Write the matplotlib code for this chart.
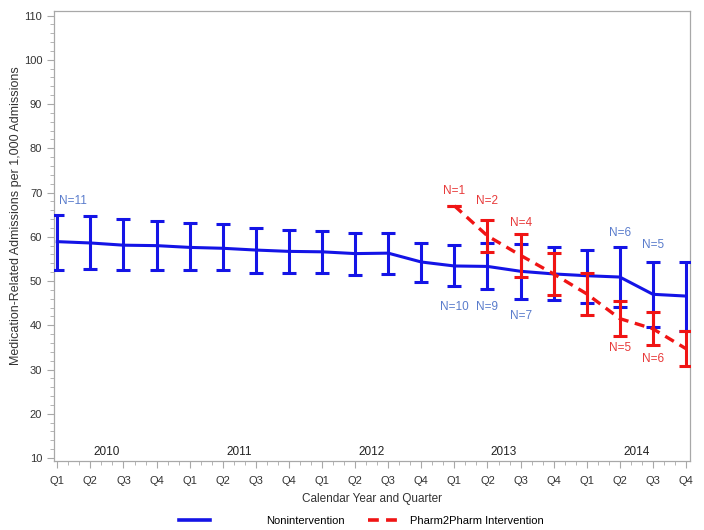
import numpy as np
import matplotlib
matplotlib.use("Agg")
import matplotlib.pyplot as plt
from matplotlib.lines import Line2D

plt.rcParams['font.family'] = ['Liberation Sans', 'DejaVu Sans']

# Datos
quarters = ['Q1', 'Q2', 'Q3', 'Q4'] * 5
years = ['2010', '2011', '2012', '2013', '2014']

non_mean = [58.9, 58.6, 58.1, 58.0, 57.6, 57.4, 57.0, 56.7, 56.6, 56.2,
            56.3, 54.3, 53.4, 53.3, 52.2, 51.6, 51.2, 50.9, 47.0, 46.6]
non_low = [52.5, 52.7, 52.4, 52.5, 52.4, 52.4, 51.8, 51.8, 51.8, 51.3,
           51.7, 49.8, 48.8, 48.2, 46.0, 45.6, 45.1, 44.1, 39.6, 38.8]
non_high = [65.0, 64.6, 64.0, 63.5, 63.1, 62.9, 62.0, 61.6, 61.2, 60.8,
            60.8, 58.7, 58.1, 58.7, 58.3, 57.7, 57.1, 57.8, 54.3, 54.2]

p2p_start = 12
p2p_mean = [67.0, 60.2, 55.8, 51.6, 47.1, 41.5, 39.2, 34.7]
p2p_low = [67.0, 56.6, 50.9, 46.8, 42.4, 37.6, 35.6, 30.8]
p2p_high = [67.0, 63.8, 60.7, 56.3, 51.8, 45.4, 42.9, 38.6]

# Etiquetas N (posicion, valor y, texto)
non_n_x = [0, 12, 13, 14, 17, 18]
non_n_y = [68.0, 44.2, 44.2, 42.0, 60.8, 58.2]
non_n_txt = ['N=11', 'N=10', 'N=9', 'N=7', 'N=6', 'N=5']
p2p_n_x = [12, 13, 14, 17, 18]
p2p_n_y = [70.3, 68.0, 63.2, 34.8, 32.3]
p2p_n_txt = ['N=1', 'N=2', 'N=4', 'N=5', 'N=6']

blue = '#1414e6'
red = '#f01414'
grey = '#a8a8a8'

x = np.arange(len(quarters))
xp = np.arange(p2p_start, p2p_start + len(p2p_mean))

fig = plt.figure(figsize=(7.04, 5.30), dpi=100)
ax = fig.add_axes([0.0767, 0.130, 0.9034, 0.849])

nm = np.array(non_mean)
ax.errorbar(x, nm, yerr=[nm - np.array(non_low), np.array(non_high) - nm],
            color=blue, lw=2.2, elinewidth=2.2, capsize=5, capthick=2.2, zorder=3)
pm = np.array(p2p_mean)
ax.errorbar(xp, pm, yerr=[pm - np.array(p2p_low), np.array(p2p_high) - pm],
            color=red, lw=2.4, ls=(0, (3, 2)), elinewidth=2.2, capsize=5,
            capthick=2.2, zorder=4)

for xi, yi, t in zip(non_n_x, non_n_y, non_n_txt):
    if xi == 0:
        ax.text(xi + 0.05, yi, t, color='#5a7ccc', fontsize=8.5, ha='left', va='center', zorder=5)
    else:
        ax.text(xi, yi, t, color='#5a7ccc', fontsize=8.5, ha='center', va='center', zorder=5)
for xi, yi, t in zip(p2p_n_x, p2p_n_y, p2p_n_txt):
    ax.text(xi, yi, t, color='#e83a3a', fontsize=8.5, ha='center', va='center', zorder=5)

for i, yr in enumerate(years):
    ax.text(1.5 + 4 * i, 11.3, yr, fontsize=8.5, color='#222222', ha='center', va='center')

ax.set_xlim(-0.1, 19.12)
ax.set_ylim(9.3, 111)
ax.set_xticks(x)
ax.set_xticklabels(quarters)
ax.set_xticks(np.arange(0, 19.01, 1 / 3), minor=True)
ax.set_yticks(np.arange(10, 111, 10))
ax.set_yticks(np.arange(10, 111, 2), minor=True)
ax.tick_params(axis='both', which='major', length=5, color=grey, labelsize=8, labelcolor='#333333')
ax.tick_params(axis='both', which='minor', length=3, color=grey)
ax.tick_params(axis='x', pad=6)
for s in ax.spines.values():
    s.set_color(grey)
    s.set_linewidth(0.9)

ax.set_xlabel('Calendar Year and Quarter', fontsize=8.5, color='#333333', labelpad=5)
ax.set_ylabel('Medication-Related Admissions per 1,000 Admissions', fontsize=9,
              color='#333333')
ax.yaxis.set_label_coords(-0.05, 0.545)

h1 = Line2D([], [], color=blue, lw=2.6)
h2 = Line2D([], [], color=red, lw=2.6, ls=(0, (3, 2)))
fig.legend([h1], ['Nonintervention'], loc='center', bbox_to_anchor=(0.372, 0.017),
           frameon=False, fontsize=8, handlelength=2.8, handletextpad=5.0)
fig.legend([h2], ['Pharm2Pharm Intervention'], loc='center', bbox_to_anchor=(0.647, 0.017),
           frameon=False, fontsize=8, handlelength=3.2, handletextpad=0.6)

fig.savefig('out.png', dpi=100)
